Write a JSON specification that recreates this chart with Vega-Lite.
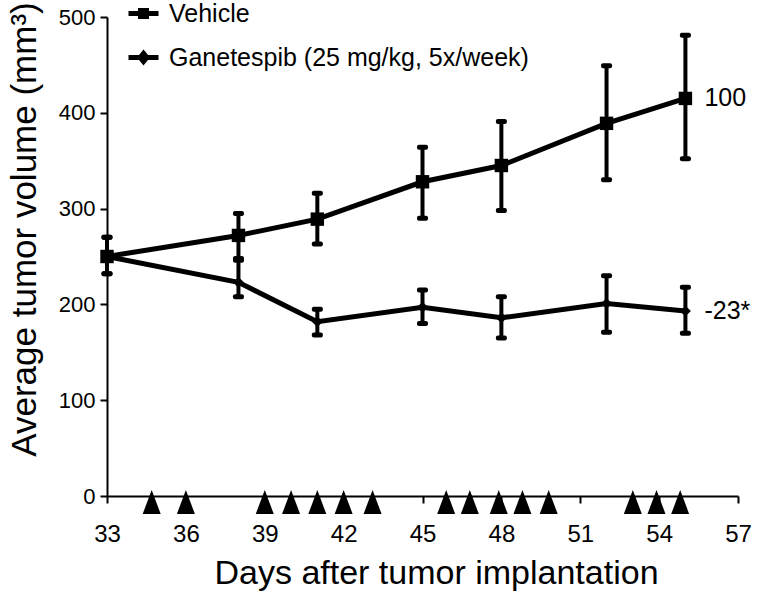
{
  "$schema": "https://vega.github.io/schema/vega-lite/v6.json",
  "autosize": "none",
  "padding": {"left": 107, "top": 17, "right": 29, "bottom": 101},
  "width": 631,
  "height": 479,
  "background": "white",
  "config": {
    "view": {"stroke": null},
    "font": "Liberation Sans",
    "axis": {
      "grid": false,
      "domainColor": "black",
      "domainWidth": 2,
      "tickColor": "black",
      "tickWidth": 2,
      "tickSize": 7,
      "labelColor": "black",
      "titleColor": "black",
      "labelFont": "Liberation Sans",
      "titleFont": "Liberation Sans",
      "titleFontWeight": "normal",
      "labelFontSize": 22,
      "labelFlush": false
    },
    "legend": {
      "symbolStrokeWidth": 5,
      "symbolStrokeColor": "black",
      "symbolFillColor": "black",
      "symbolSize": 900
    }
  },
  "datasets": {
    "series": [
      {"group": "Vehicle", "day": 33, "mean": 250, "lo": 232, "hi": 270},
      {"group": "Vehicle", "day": 38, "mean": 272, "lo": 248, "hi": 295},
      {"group": "Vehicle", "day": 41, "mean": 289, "lo": 263, "hi": 316},
      {"group": "Vehicle", "day": 45, "mean": 328, "lo": 290, "hi": 364},
      {"group": "Vehicle", "day": 48, "mean": 345, "lo": 298, "hi": 391},
      {"group": "Vehicle", "day": 52, "mean": 389, "lo": 330, "hi": 449},
      {"group": "Vehicle", "day": 55, "mean": 415, "lo": 352, "hi": 481},
      {"group": "Ganetespib (25 mg/kg, 5x/week)", "day": 33, "mean": 250, "lo": 232, "hi": 270},
      {"group": "Ganetespib (25 mg/kg, 5x/week)", "day": 38, "mean": 223, "lo": 208, "hi": 246},
      {"group": "Ganetespib (25 mg/kg, 5x/week)", "day": 41, "mean": 182, "lo": 168, "hi": 195},
      {"group": "Ganetespib (25 mg/kg, 5x/week)", "day": 45, "mean": 197, "lo": 180, "hi": 215},
      {"group": "Ganetespib (25 mg/kg, 5x/week)", "day": 48, "mean": 186, "lo": 165, "hi": 208},
      {"group": "Ganetespib (25 mg/kg, 5x/week)", "day": 52, "mean": 201, "lo": 171, "hi": 230},
      {"group": "Ganetespib (25 mg/kg, 5x/week)", "day": 55, "mean": 193, "lo": 170, "hi": 218}
    ],
    "doses": [
      {"day": 34.7, "level": 0}, {"day": 36, "level": 0}, {"day": 39, "level": 0}, {"day": 40, "level": 0},
      {"day": 41, "level": 0}, {"day": 42, "level": 0}, {"day": 43.1, "level": 0},
      {"day": 45.9, "level": 0}, {"day": 46.8, "level": 0}, {"day": 47.9, "level": 0}, {"day": 48.8, "level": 0}, {"day": 49.8, "level": 0},
      {"day": 53, "level": 0}, {"day": 53.9, "level": 0}, {"day": 54.8, "level": 0}
    ],
    "labels": [
      {"day": 55, "mean": 415, "label": "100"},
      {"day": 55, "mean": 193, "label": "-23*"}
    ]
  },
  "encoding": {
    "x": {
      "field": "day", "type": "quantitative",
      "scale": {"domain": [33, 57], "nice": false, "zero": false},
      "axis": {
        "values": [33, 36, 39, 42, 45, 48, 51, 54, 57],
        "labelPadding": 19,
        "labelFontSize": 24,
        "labelFlush": false,
        "title": "Days after tumor implantation",
        "titleFontSize": 34,
        "titleX": 329,
        "titleY": 87,
        "titleBaseline": "alphabetic",
        "titleAlign": "center",
        "titleAnchor": null
      }
    },
    "y": {
      "field": "mean", "type": "quantitative",
      "scale": {"domain": [0, 500], "nice": false},
      "axis": {
        "values": [0, 100, 200, 300, 400, 500],
        "labelPadding": 5,
        "labelFlush": false,
        "title": "Average tumor volume (mm³)",
        "titleFontSize": 35,
        "titleX": -72,
        "titleY": 212,
        "titleAngle": 270,
        "titleBaseline": "alphabetic",
        "titleAlign": "center",
        "titleAnchor": null
      }
    }
  },
  "layer": [
    {
      "data": {"name": "series"},
      "mark": {"type": "line", "color": "black", "strokeWidth": 5},
      "encoding": {"detail": {"field": "group"}}
    },
    {
      "data": {"name": "series"},
      "mark": {"type": "rule", "color": "black", "strokeWidth": 4},
      "encoding": {"y": {"field": "lo", "type": "quantitative"}, "y2": {"field": "hi"}}
    },
    {
      "data": {"name": "series"},
      "mark": {"type": "tick", "orient": "horizontal", "color": "black", "size": 11, "thickness": 5, "cornerRadius": 2, "opacity": 1},
      "encoding": {"y": {"field": "lo", "type": "quantitative"}}
    },
    {
      "data": {"name": "series"},
      "mark": {"type": "tick", "orient": "horizontal", "color": "black", "size": 11, "thickness": 5, "cornerRadius": 2, "opacity": 1},
      "encoding": {"y": {"field": "hi", "type": "quantitative"}}
    },
    {
      "data": {"name": "series"},
      "transform": [{"filter": "datum.group === 'Vehicle'"}],
      "mark": {"type": "point", "filled": true, "color": "black", "opacity": 1, "shape": "square", "size": 180}
    },
    {
      "data": {"name": "series"},
      "transform": [{"filter": "datum.group !== 'Vehicle'"}],
      "mark": {"type": "point", "filled": true, "color": "black", "opacity": 1, "shape": "diamond", "size": 120}
    },
    {
      "data": {"name": "series"},
      "transform": [{"filter": "false"}],
      "mark": {"type": "point", "filled": false, "color": "black", "opacity": 1, "strokeWidth": 5},
      "encoding": {
        "shape": {"field": "group", "type": "nominal",
          "scale": {"domain": ["Vehicle", "Ganetespib (25 mg/kg, 5x/week)"],
            "range": ["M-1,0L1,0M-0.2,-0.2L0.2,-0.2L0.2,0.2L-0.2,0.2Z", "M-1,0L1,0M0,-0.27L0.22,0L0,0.27L-0.22,0Z"]},
          "legend": {
            "title": null,
            "orient": "none",
            "legendX": 19,
            "legendY": -21,
            "padding": 0,
            "rowPadding": 13,
            "symbolSize": 900,
            "symbolStrokeWidth": 5,
            "symbolStrokeColor": "black",
            "symbolFillColor": "black",
            "symbolOpacity": 1,
            "labelFontSize": 25,
            "labelFont": "Liberation Sans",
            "labelColor": "black",
            "labelOffset": 8,
            "labelLimit": 0,
            "encode": {
              "symbols": {
                "stroke": {"value": "black"},
                "strokeWidth": {"value": 5},
                "fill": {"value": "black"}
              }
            }
          }
        }
      }
    },
    {
      "data": {"name": "doses"},
      "mark": {"type": "point", "filled": true, "color": "black", "opacity": 1, "size": 576, "shape": "M0,-1L0.75,1L-0.75,1Z", "yOffset": 6, "clip": false},
      "encoding": {"y": {"field": "level", "type": "quantitative"}}
    },
    {
      "data": {"name": "labels"},
      "mark": {"type": "text", "align": "left", "baseline": "middle", "dx": 19, "fontSize": 25, "color": "black", "font": "Liberation Sans"},
      "encoding": {"text": {"field": "label"}}
    }
  ]
}
